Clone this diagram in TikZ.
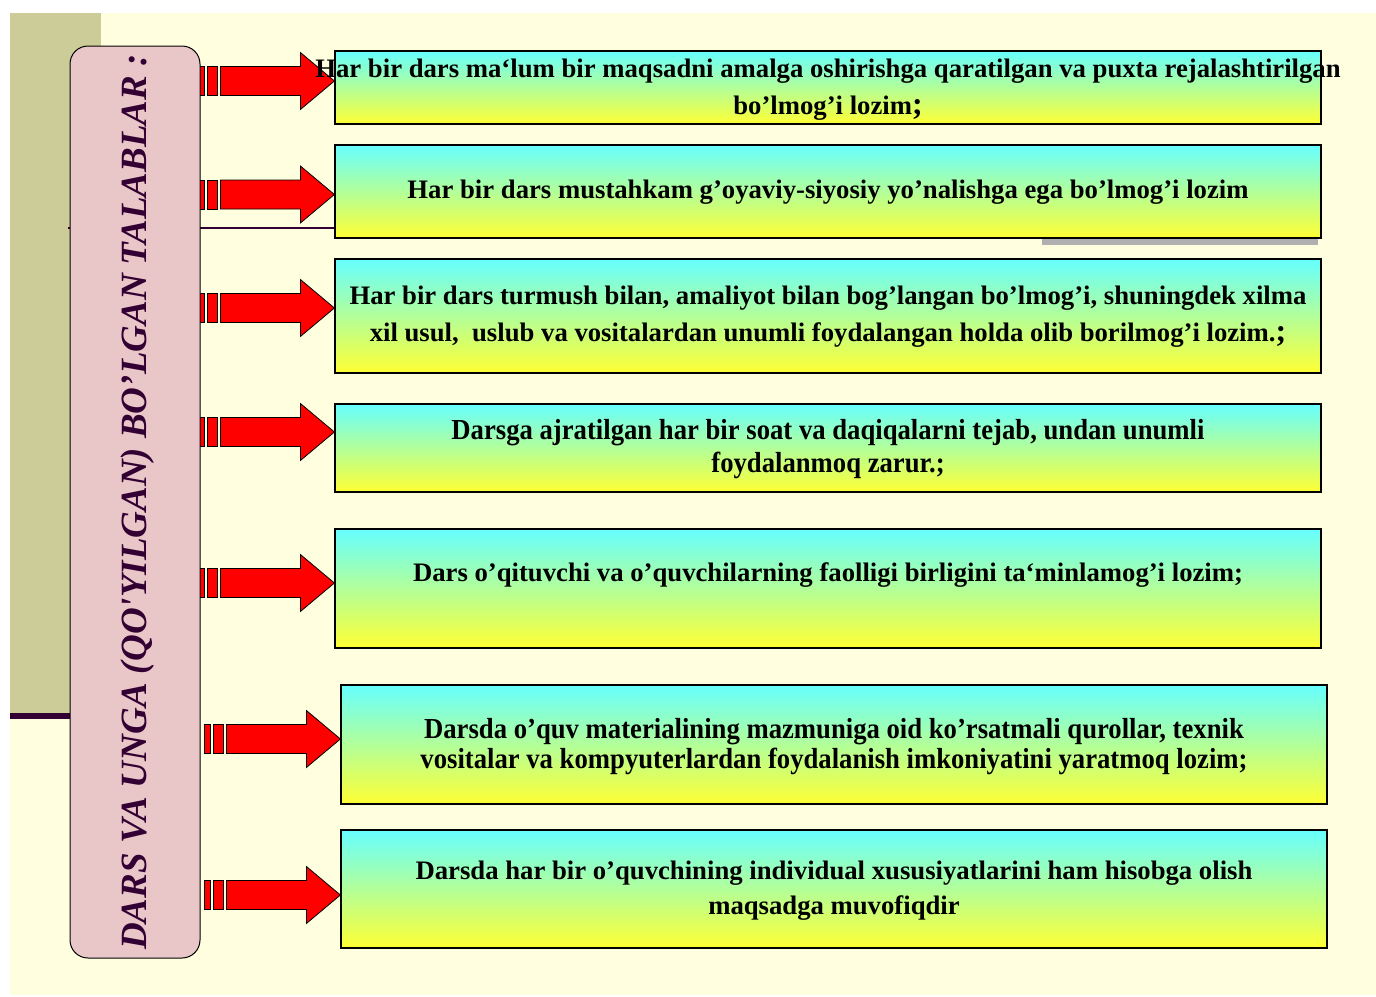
\documentclass[tikz,border=0pt]{standalone}
\usepackage{fontspec}
\setmainfont{Liberation Serif}
\newfontfamily\condfont[FakeStretch=0.92]{Liberation Serif}
\usetikzlibrary{calc}
\definecolor{bgyellow}{HTML}{FFFFE0}
\definecolor{olivepanel}{HTML}{CCCC99}
\definecolor{purp}{HTML}{330033}
\definecolor{pinkbox}{HTML}{E9C6C8}
\definecolor{boxtop}{HTML}{66FFFF}
\definecolor{boxbot}{HTML}{FFFF33}
\definecolor{shadowgrey}{HTML}{B0B0B0}
\tikzset{
  box/.style={draw=black, line width=1.2pt, top color=boxtop, bottom color=boxbot,
    minimum width=986pt, inner sep=0pt},
  txt/.style={align=center, inner sep=0pt, text=black,
    font=\fontsize{26.7}{37}\selectfont\bfseries},
  ctxt/.style={align=center, inner sep=0pt, text=black,
    font=\condfont\fontsize{29}{33}\selectfont\bfseries},
  arr/.style={fill=red, draw=black, line width=0.8pt, line join=miter},
}
\newcommand\bigsemi{{\fontsize{32}{32}\selectfont;}}
\newcommand\blockarrow[2]{%
  \begin{scope}[shift={($(#1.west)+(0,#2)$)}]
    \filldraw[arr] (-136,-14.5) rectangle (-130,14.5);
    \filldraw[arr] (-127,-14.5) rectangle (-117,14.5);
    \filldraw[arr] (-114,-14.5) -- (-34,-14.5) -- (-34,-28.5) -- (0,0)
      -- (-34,28.5) -- (-34,14.5) -- (-114,14.5) -- cycle;
  \end{scope}}
\begin{document}
\begin{tikzpicture}[x=1pt,y=-1pt]
\useasboundingbox (0,0) rectangle (1376,996);
\fill[white] (0,0) rectangle (1376,996);
\fill[bgyellow] (10,13) rectangle (1376,995);
\fill[olivepanel] (10,13) rectangle (101,713);
\draw[purp, line width=6pt] (10,716) -- (72,716);
\draw[purp, line width=2pt] (68,228) -- (335,228);
\fill[shadowgrey] (1042,238) rectangle (1318,245);

% boxes
\node[box, minimum height=73pt]  (b1) at (828,87.5) {};
\node[box, minimum height=93pt]  (b2) at (828,191.5) {};
\node[box, minimum height=114pt] (b3) at (828,316) {};
\node[box, minimum height=88pt]  (b4) at (828,448) {};
\node[box, minimum height=119pt] (b5) at (828,588.5) {};
\node[box, minimum height=119pt] (b6) at (834,744.5) {};
\node[box, minimum height=118pt] (b7) at (834,889) {};

% arrows
\blockarrow{b1}{-6.5}
\blockarrow{b2}{3}
\blockarrow{b3}{-8}
\blockarrow{b4}{-16}
\blockarrow{b5}{-5.5}
\blockarrow{b6}{-5.5}
\blockarrow{b7}{6}

% title box
\node[draw=black, line width=1pt, fill=pinkbox, rounded corners=18pt,
  minimum width=130pt, minimum height=912pt] (title) at (135,502) {};
\node[rotate=90, anchor=base, text=purp, inner sep=0pt,
  font=\fontsize{37}{37}\selectfont\bfseries\itshape] (tt) at (146,502)
  {DARS VA UNGA (QO\textquotesingle YILGAN) BO’LGAN TALABLAR :};

% texts
\node[txt] (t1) at ($(b1.center)+(0,2)$) {Har bir dars ma‘lum bir maqsadni amalga oshirishga qaratilgan va puxta rejalashtirilgan\\bo’lmog’i lozim\bigsemi};
\node[txt] (t2) at ($(b2.center)+(0,1)$) {Har bir dars mustahkam g’oyaviy-siyosiy yo’nalishga ega bo’lmog’i lozim};
\node[txt] (t3) at ($(b3.center)+(0,1)$) {Har bir dars turmush bilan, amaliyot bilan bog’langan bo’lmog’i, shuningdek xilma\\xil usul,\ \ uslub va vositalardan unumli foydalangan holda olib borilmog’i lozim.\bigsemi};
\node[ctxt] (t4) at ($(b4.center)+(0,1)$) {Darsga ajratilgan har bir soat va daqiqalarni tejab, undan unumli\\foydalanmoq zarur.;};
\node[txt] (t5) at ($(b5.center)+(0,-13.5)$) {Dars o’qituvchi va o’quvchilarning faolligi birligini ta‘minlamog’i lozim;};
\node[ctxt, font=\condfont\fontsize{29}{30}\selectfont\bfseries] (t6) at ($(b6.center)+(0,2)$) {Darsda o’quv materialining mazmuniga oid ko’rsatmali qurollar, texnik\\vositalar va kompyuterlardan foydalanish imkoniyatini yaratmoq lozim;};
\node[txt, font=\fontsize{26.7}{35}\selectfont\bfseries] (t7) at ($(b7.center)+(0,2)$) {Darsda har bir o’quvchining individual xususiyatlarini ham hisobga olish\\maqsadga muvofiqdir};
\end{tikzpicture}
\end{document}
